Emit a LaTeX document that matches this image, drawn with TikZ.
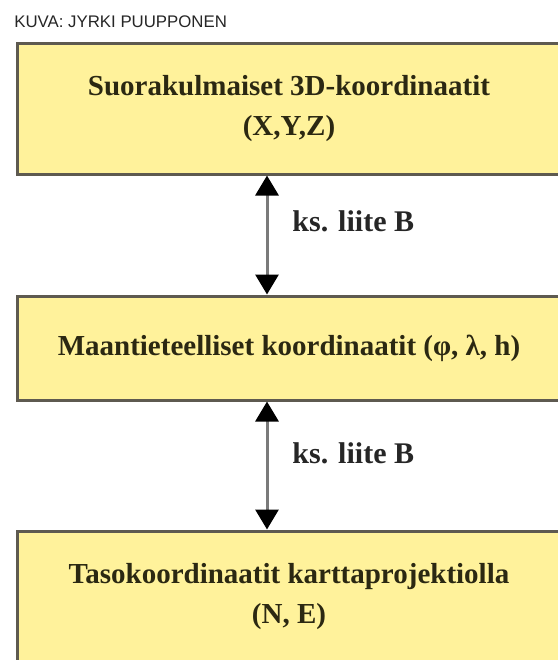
\documentclass[tikz,border=0pt]{standalone}
\usepackage{fontspec}
\setmainfont{Liberation Serif}
\newfontfamily\creditfont{Liberation Sans}
\usetikzlibrary{arrows.meta}
\definecolor{boxfill}{HTML}{FFF29B}
\definecolor{boxline}{HTML}{5E5A50}
\definecolor{inktext}{HTML}{2B2812}
\definecolor{shaft}{HTML}{7A7A7A}

\begin{document}
\begin{tikzpicture}[x=0.5pt,y=-0.5pt,
	coordbox/.style={draw=boxline, line width=1.5pt, fill=boxfill, minimum width=272pt,
		align=center, text=inktext, font=\bfseries\fontsize{14.5}{20}\selectfont, inner sep=0pt},
	link/.style={draw=shaft, line width=1.5pt,
		{Triangle[width=11.5pt,length=10pt,color=black]}-{Triangle[width=11.5pt,length=10pt,color=black]}},
	linklabel/.style={anchor=west, inner sep=0pt, text=black!85, font=\bfseries\fontsize{15}{18}\selectfont}]
	\useasboundingbox (0,0) rectangle (558,660);
	\clip (0,0) rectangle (558,660);
	\fill[white] (0,0) rectangle (558,660);
	\node[anchor=west, inner sep=0pt, text=black!85, font=\creditfont\fontsize{8.4}{10}\selectfont] (credit) at (14,22) {KUVA: JYRKI PUUPPONEN};
	\node[coordbox, minimum height=65.5pt] (cartesian) at (289,108.5) {Suorakulmaiset 3D-koordinaatit\\(X,Y,Z)};
	\node[coordbox, minimum height=52pt] (geodetic) at (289,348) {Maantieteelliset koordinaatit (φ, λ, h)};
	\node[coordbox, minimum height=66pt] (planar) at (289,597) {Tasokoordinaatit karttaprojektiolla\\(N, E)};
	\coordinate (axis) at (267,0);
	\draw[link] (cartesian.south -| axis) -- (geodetic.north -| axis);
	\draw[link] (geodetic.south -| axis) -- (planar.north -| axis);
	\node[linklabel] (liiteA) at (292,221) {ks. liite B};
	\node[linklabel] (liiteB) at (292,453) {ks. liite B};
\end{tikzpicture}
\end{document}
